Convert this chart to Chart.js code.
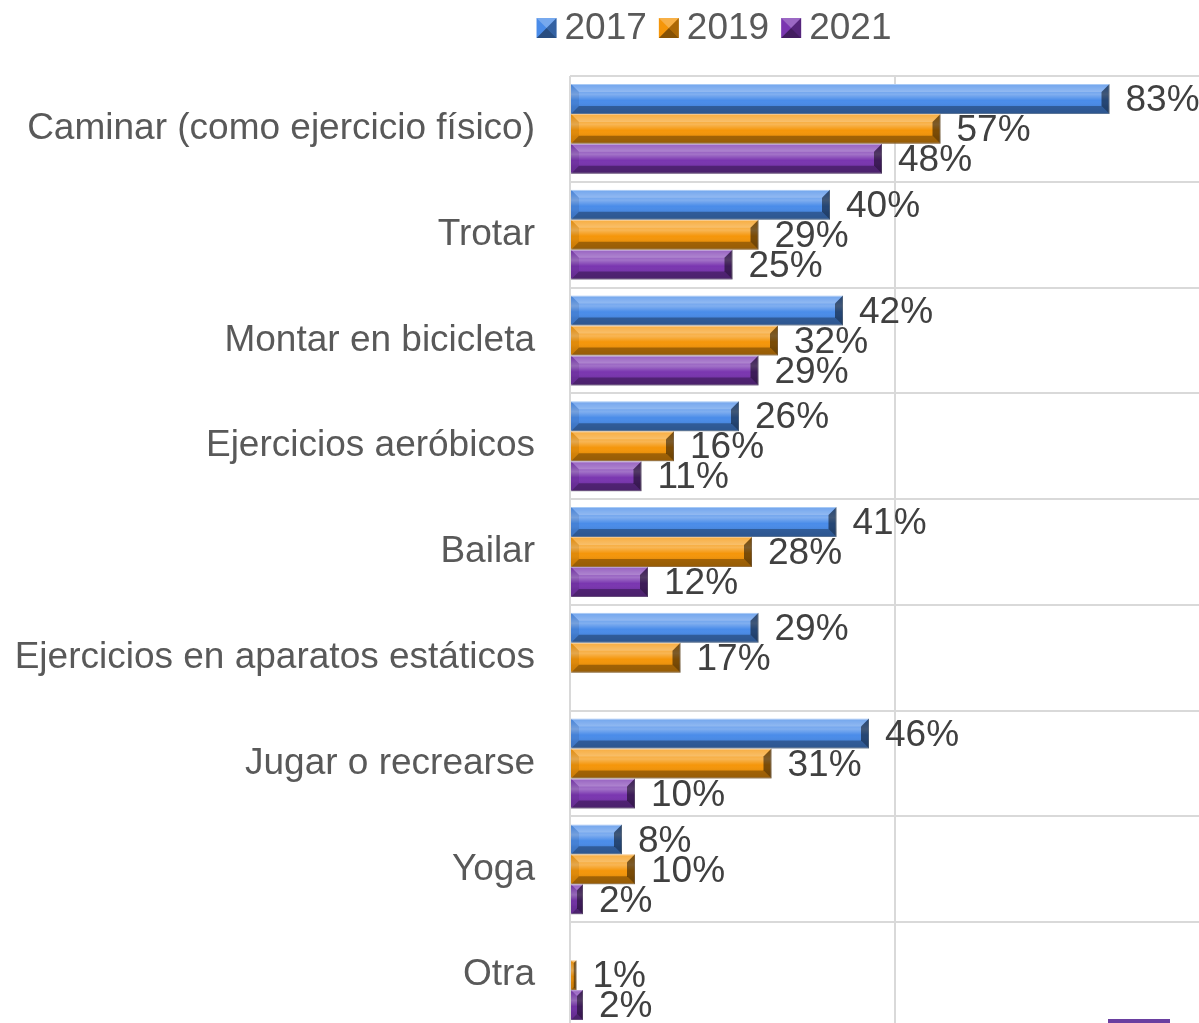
<!DOCTYPE html>
<html lang="es">
  <head>
    <meta charset="UTF-8" />
    <title>Actividad física</title>
    <style>
      body { margin: 0; background: #fff; }
      #wrap { width: 1199px; height: 1023px; overflow: hidden; position: relative; }
    </style>
    <script src="https://cdn.jsdelivr.net/npm/chart.js"></script>
  </head>
  <body>
    <div id="wrap">
      <canvas id="myChart" width="1250" height="1028"></canvas>
    </div>
    <script>
      // categories and series (percent)
      const categories = [
        "Caminar (como ejercicio físico)",
        "Trotar",
        "Montar en bicicleta",
        "Ejercicios aeróbicos",
        "Bailar",
        "Ejercicios en aparatos estáticos",
        "Jugar o recrearse",
        "Yoga",
        "Otra"
      ];
      const years = ["2017", "2019", "2021"];
      const values2017 = [83, 40, 42, 26, 41, 29, 46, 8, null];
      const values2019 = [57, 29, 32, 16, 28, 17, 31, 10, 1];
      const values2021 = [48, 25, 29, 11, 12, null, 10, 2, 2];

      const FONT = '"Liberation Sans", Arial, sans-serif';
      const baseColors = ['#4a8ce9', '#f5960a', '#7a36b0'];
      const edgeColors = ['#8fbaf2', '#f7b660', '#a57cc9'];

      // bevelled bar look, painted on top of the bars chart.js drew
      const bevelBars = {
        id: 'bevelBars',
        afterDatasetsDraw(chart) {
          const ctx = chart.ctx;
          chart.data.datasets.forEach((ds, i) => {
            const meta = chart.getDatasetMeta(i);
            meta.data.forEach((bar, j) => {
              if (ds.data[j] == null) return;
              const x0 = bar.base, x1 = bar.x;
              const top = bar.y - bar.height / 2, bot = bar.y + bar.height / 2;
              const h = bot - top;
              const d = Math.min(8, (x1 - x0) / 2, h / 3);
              const poly = (pts, fill) => {
                ctx.beginPath();
                ctx.moveTo(pts[0][0], pts[0][1]);
                for (let k = 1; k < pts.length; k++) ctx.lineTo(pts[k][0], pts[k][1]);
                ctx.closePath();
                ctx.fillStyle = fill;
                ctx.fill();
              };
              ctx.save();
              // soft highlight stripe in the upper middle
              const g = ctx.createLinearGradient(0, top, 0, bot);
              g.addColorStop(0, 'rgba(255,255,255,0.0)');
              g.addColorStop(0.35, 'rgba(255,255,255,0.3)');
              g.addColorStop(0.55, 'rgba(255,255,255,0.0)');
              g.addColorStop(0.75, 'rgba(0,0,0,0.06)');
              g.addColorStop(1, 'rgba(0,0,0,0.12)');
              ctx.fillStyle = g;
              ctx.fillRect(x0, top, x1 - x0, h);
              poly([[x0, top], [x1, top], [x1 - d, top + d], [x0 + d, top + d]], 'rgba(255,255,255,0.22)');
              poly([[x0, bot], [x1, bot], [x1 - d, bot - d], [x0 + d, bot - d]], 'rgba(0,0,0,0.3)');
              poly([[x1, top], [x1, bot], [x1 - d, bot - d], [x1 - d, top + d]], 'rgba(0,0,0,0.5)');
              poly([[x0, top], [x0, bot], [x0 + d, bot - d], [x0 + d, top + d]], 'rgba(0,0,0,0.08)');
              ctx.restore();
            });
          });
        }
      };

      // value labels at the end of each bar
      const valueLabels = {
        id: 'valueLabels',
        afterDatasetsDraw(chart) {
          const ctx = chart.ctx;
          ctx.save();
          ctx.font = '37px ' + FONT;
          ctx.fillStyle = '#404040';
          ctx.textAlign = 'left';
          ctx.textBaseline = 'middle';
          chart.data.datasets.forEach((ds, i) => {
            chart.getDatasetMeta(i).data.forEach((bar, j) => {
              if (ds.data[j] == null) return;
              ctx.fillText(ds.data[j] + '%', bar.x + 16, bar.y + 2);
            });
          });
          ctx.restore();
        }
      };

      // legend with little pyramid markers
      const topLegend = {
        id: 'topLegend',
        afterDraw(chart) {
          const ctx = chart.ctx;
          ctx.save();
          ctx.font = '37px ' + FONT;
          ctx.textBaseline = 'alphabetic';
          const box = 20, gapBox = 8, gapItem = 12;
          const widths = chart.data.datasets.map(ds => box + gapBox + ctx.measureText(ds.label).width);
          const total = widths.reduce((a, b) => a + b, 0) + gapItem * (widths.length - 1);
          let x = 714 - total / 2;
          chart.data.datasets.forEach((ds, i) => {
            const y = 18;
            const c = baseColors[i];
            const cx = x + box / 2, cy = y + box / 2;
            ctx.fillStyle = c;
            ctx.fillRect(x, y, box, box);
            const tri = (pts, fill) => {
              ctx.beginPath();
              ctx.moveTo(pts[0][0], pts[0][1]);
              ctx.lineTo(pts[1][0], pts[1][1]);
              ctx.lineTo(pts[2][0], pts[2][1]);
              ctx.closePath();
              ctx.fillStyle = fill;
              ctx.fill();
            };
            tri([[x, y], [x + box, y], [cx, cy]], 'rgba(255,255,255,0.25)');
            tri([[x, y + box], [x + box, y + box], [cx, cy]], 'rgba(0,0,0,0.45)');
            tri([[x + box, y], [x + box, y + box], [cx, cy]], 'rgba(0,0,0,0.3)');
            ctx.fillStyle = '#595959';
            ctx.fillText(ds.label, x + box + gapBox, 39);
            x += widths[i] + gapItem;
          });
          // corner logo peeking in at the bottom
          ctx.fillStyle = '#6a3fa0';
          ctx.fillRect(1108, 1019, 62, 9);
          ctx.restore();
        }
      };

      const ctx = document.getElementById('myChart').getContext('2d');
      new Chart(ctx, {
        type: 'bar',
        data: {
          labels: categories,
          datasets: [
            { label: years[0], data: values2017, backgroundColor: baseColors[0], borderColor: edgeColors[0], borderWidth: 1 },
            { label: years[1], data: values2019, backgroundColor: baseColors[1], borderColor: edgeColors[1], borderWidth: 1 },
            { label: years[2], data: values2021, backgroundColor: baseColors[2], borderColor: edgeColors[2], borderWidth: 1 }
          ]
        },
        options: {
          indexAxis: 'y',
          responsive: false,
          animation: false,
          layout: { padding: { top: 76, right: 30, bottom: 0, left: 0 } },
          datasets: { bar: { categoryPercentage: 0.85, barPercentage: 1.0 } },
          plugins: { legend: { display: false }, tooltip: { enabled: false } },
          scales: {
            x: {
              min: 0,
              max: 100,
              ticks: { display: false, stepSize: 50 },
              grid: { color: '#d9d9d9', lineWidth: 2, drawTicks: false },
              border: { display: false },
              afterFit(scale) { scale.height = 0; scale.paddingLeft = 0; scale.paddingRight = 0; }
            },
            y: {
              ticks: { color: '#595959', font: { family: FONT, size: 37 }, padding: 35 },
              grid: { color: '#d9d9d9', lineWidth: 2, drawTicks: false },
              border: { display: false },
              afterFit(scale) { scale.width = 570; scale.paddingTop = 0; scale.paddingBottom = 0; }
            }
          }
        },
        plugins: [bevelBars, valueLabels, topLegend]
      });
    </script>
  </body>
</html>
